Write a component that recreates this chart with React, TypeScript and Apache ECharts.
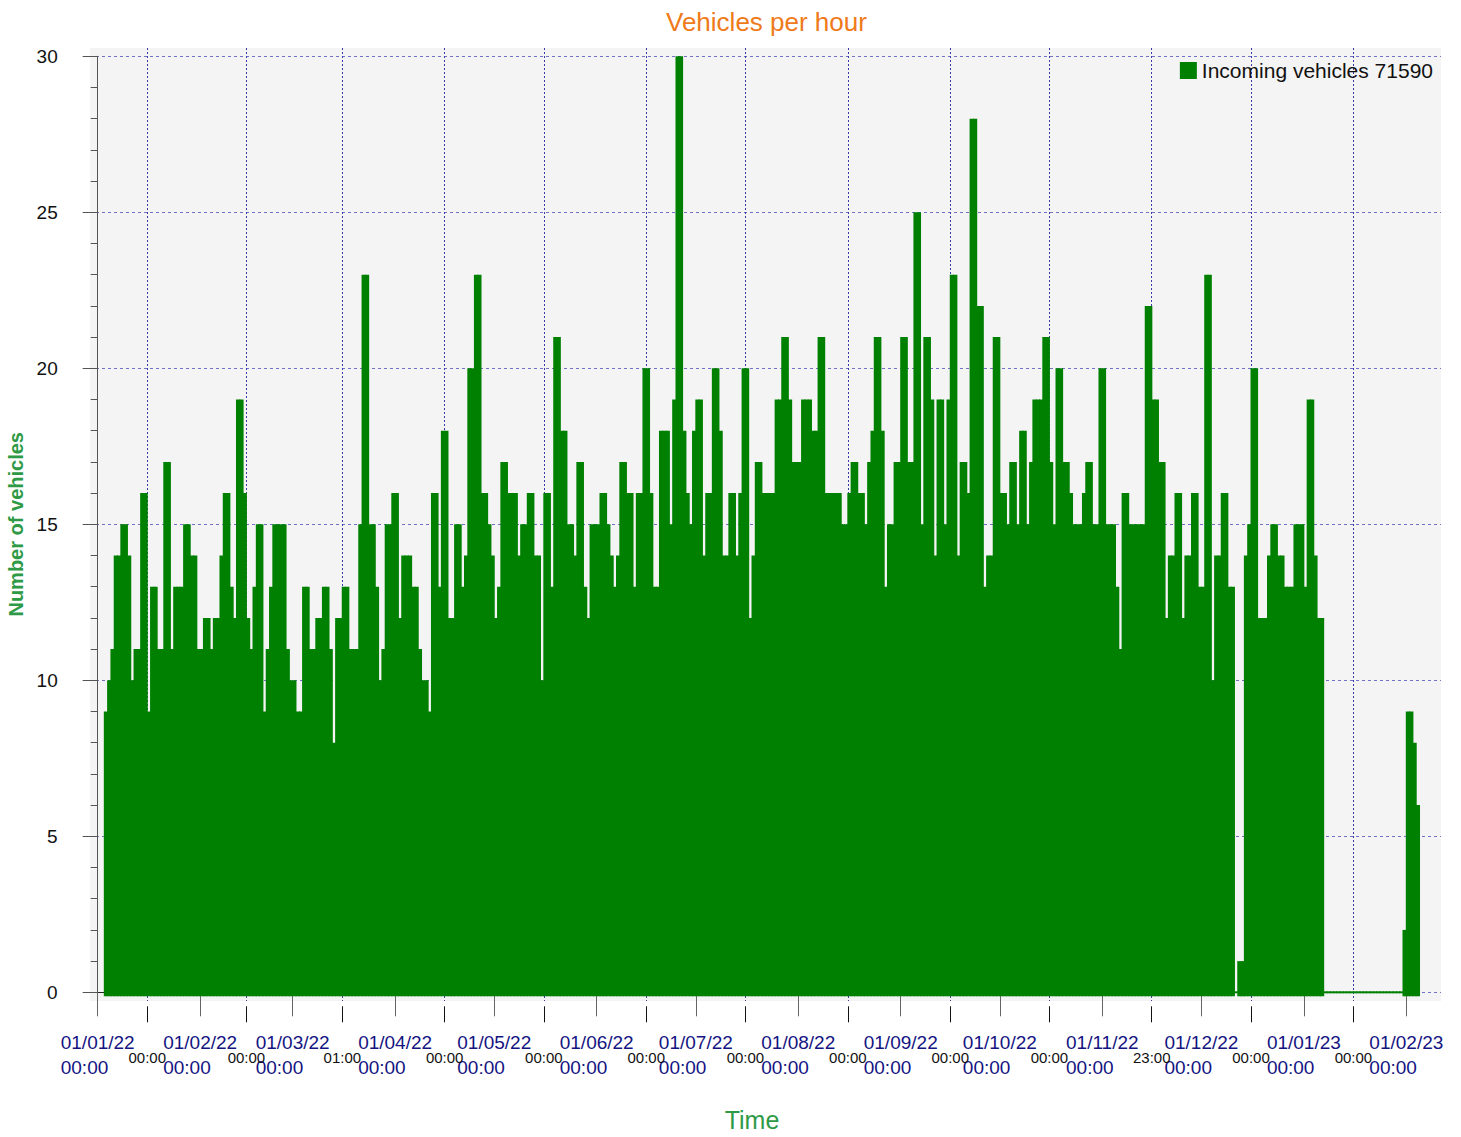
import React, { useEffect, useRef } from "react";
import * as echarts from "echarts";

// ---------- texts ----------
const TITLE = "Vehicles per hour";
const SERIES_NAME = "Incoming vehicles 71590";
const Y_NAME = "Number of vehicles";
const X_NAME = "Time";

// ---------- x axis (days since 01/01/22 00:00) ----------
const MONTH_START_DAYS = [0, 31, 59, 90, 120, 151, 181, 212, 243, 273, 304, 334, 365, 396];
const MONTH_DATE_LABELS = [
  "01/01/22", "01/02/22", "01/03/22", "01/04/22", "01/05/22", "01/06/22", "01/07/22",
  "01/08/22", "01/09/22", "01/10/22", "01/11/22", "01/12/22", "01/01/23", "01/02/23",
];
const MONTH_TIME_LABELS = [
  "00:00", "00:00", "00:00", "00:00", "00:00", "00:00", "00:00",
  "00:00", "00:00", "00:00", "00:00", "00:00", "00:00", "00:00",
];
const MID_TICK_DAYS = [15, 45, 74 + 1 / 24, 105, 135, 166, 196, 227, 258, 288, 319 - 1 / 24, 349, 380];
const MID_TICK_LABELS = [
  "00:00", "00:00", "01:00", "00:00", "00:00", "00:00", "00:00",
  "00:00", "00:00", "00:00", "23:00", "00:00", "00:00",
];
const Y_TICKS = [0, 5, 10, 15, 20, 25, 30];

// ---------- daily maximum of vehicles per hour ----------
const JAN_22 = [null, null, 9, 10, 11, 14, 14, 15, 15, 14, 10, 11, 11, 16, 16, 9, 13, 13, 11, 11, 17, 17, 11, 13, 13, 13, 15, 15, 14, 14, 11];
const FEB_22 = [11, 12, 12, 11, 12, 12, 14, 16, 16, 13, 12, 19, 19, 16, 12, 11, 13, 15, 15, 9, 11, 13, 15, 15, 15, 15, 11, 10];
const MAR_22 = [10, 9, 9, 13, 13, 11, 11, 12, 12, 13, 13, 11, 8, 12, 12, 13, 13, 11, 11, 11, 15, 23, 23, 15, 15, 13, 10, 11, 15, 15, 16];
const APR_22 = [16, 12, 14, 14, 14, 13, 13, 11, 10, 10, 9, 16, 16, 13, 18, 18, 12, 12, 15, 15, 13, 14, 20, 20, 23, 23, 16, 16, 15, 14];
const MAY_22 = [12, 13, 17, 17, 16, 16, 16, 14, 15, 15, 16, 16, 14, 14, 10, 16, 16, 13, 21, 21, 18, 18, 15, 15, 14, 17, 17, 13, 12, 15, 15];
const JUN_22 = [15, 16, 16, 15, 14, 13, 14, 17, 17, 16, 16, 13, 16, 16, 20, 20, 16, 13, 13, 18, 18, 18, 15, 19, 30, 30, 18, 16, 15, 18];
const JUL_22 = [19, 19, 14, 16, 16, 20, 20, 18, 14, 14, 16, 16, 14, 16, 20, 20, 12, 14, 17, 17, 16, 16, 16, 16, 19, 19, 21, 21, 19, 17, 17];
const AUG_22 = [17, 19, 19, 19, 18, 18, 21, 21, 16, 16, 16, 16, 16, 15, 15, 16, 17, 17, 16, 16, 15, 17, 18, 21, 21, 18, 13, 15, 15, 17, 17];
const SEP_22 = [21, 21, 17, 17, 25, 25, 15, 21, 21, 19, 14, 19, 19, 15, 19, 23, 23, 14, 17, 17, 16, 28, 28, 22, 22, 13, 14, 14, 21, 21];
const OCT_22 = [16, 16, 15, 17, 17, 15, 18, 18, 15, 17, 19, 19, 19, 21, 21, 17, 15, 20, 20, 17, 17, 16, 15, 15, 15, 16, 17, 17, 15, 15, 20];
const NOV_22 = [20, 15, 15, 15, 13, 11, 16, 16, 15, 15, 15, 15, 15, 22, 22, 19, 19, 17, 17, 12, 14, 14, 16, 16, 12, 14, 14, 16, 16, 13];
const DEC_22 = [13, 23, 23, 10, 14, 14, 16, 16, 13, 13, 0, 1, 1, 14, 15, 20, 20, 12, 12, 12, 14, 15, 15, 14, 14, 13, 13, 13, 15, 15, 15];
const JAN_23 = [13, 19, 19, 14, 12, 12, 0, 0, 0, 0, 0, 0, 0, 0, 0, 0, 0, 0, 0, 0, 0, 0, 0, 0, 0, 0, 0, 0, 0, 0, 2];
const FEB_23 = [9, 9, 8, 6];
const MONTHS = [JAN_22, FEB_22, MAR_22, APR_22, MAY_22, JUN_22, JUL_22, AUG_22, SEP_22, OCT_22, NOV_22, DEC_22, JAN_23, FEB_23];

// ---------- layout (pixels) ----------
const W = 1461;
const H = 1137;
const X_DAY0 = 97.7; // pixel of 01/01/22
const X_DAY396 = 1406.3; // pixel of 01/02/23
const Y_VAL0 = 992.3;
const Y_VAL30 = 56.3;
const BG = { left: 90, top: 48, right: 1441, bottom: 1001 };

const GREEN = "#008000";
const NAVY = "#141482";
const NAME_GREEN = "#2e9a46";

export default function App() {
  const ref = useRef<HTMLDivElement | null>(null);

  useEffect(() => {
    if (!ref.current) return;
    const chart = echarts.init(ref.current, undefined, { renderer: "svg" });

    const data: number[][] = [];
    MONTHS.forEach((arr, m) => {
      arr.forEach((v, i) => {
        if (v !== null && v !== undefined) data.push([MONTH_START_DAYS[m] + i, v as number]);
      });
    });

    const dayPx = (X_DAY396 - X_DAY0) / 396;
    const valPx = (Y_VAL0 - Y_VAL30) / 30;
    const bgXMin = -(X_DAY0 - BG.left) / dayPx;
    const bgXMax = 396 + (BG.right - X_DAY396) / dayPx;
    const bgYMin = -(BG.bottom - Y_VAL0) / valPx;
    const bgYMax = 30 + (Y_VAL30 - BG.top) / valPx;

    const font = "Liberation Sans";

    const option: any = {
      animation: false,
      textStyle: { fontFamily: font },
      title: {
        text: TITLE,
        left: 666,
        top: 9,
        padding: 0,
        textStyle: { color: "#ef7a1a", fontSize: 26, fontWeight: "normal", fontFamily: font },
      },
      legend: {
        data: [{ name: SERIES_NAME, icon: "rect" }],
        right: 28,
        top: 60,
        padding: 0,
        itemWidth: 17,
        itemHeight: 17,
        textStyle: { fontSize: 21, color: "#111", fontFamily: font },
      },
      grid: [
        {
          left: X_DAY0,
          right: W - X_DAY396,
          top: Y_VAL30,
          bottom: H - Y_VAL0,
          outerBoundsMode: "none",
          containLabel: false,
        },
        {
          left: BG.left,
          right: W - BG.right,
          top: BG.top,
          bottom: H - BG.bottom,
          outerBoundsMode: "none",
          containLabel: false,
          show: true,
          backgroundColor: "#f4f4f4",
          borderWidth: 0,
          z: -1,
        },
      ],
      xAxis: [
        {
          type: "value",
          gridIndex: 0,
          min: 0,
          max: 396,
          position: "bottom",
          offset: 14,
          name: X_NAME,
          nameLocation: "middle",
          nameGap: 101,
          nameTextStyle: { color: NAME_GREEN, fontSize: 25, fontFamily: font },
          axisLine: { show: true, lineStyle: { color: "#222", width: 1 } },
          axisTick: { show: true, length: 24, customValues: MONTH_START_DAYS, lineStyle: { color: "#666" } },
          axisLabel: {
            show: true,
            customValues: MONTH_START_DAYS,
            margin: 24,
            formatter: (val: number) => {
              const i = MONTH_START_DAYS.indexOf(Math.round(val));
              if (i < 0) return "";
              return `{d|${MONTH_DATE_LABELS[i]}}\n{d|${MONTH_TIME_LABELS[i]}}`;
            },
            rich: {
              d: { fontSize: 19, lineHeight: 24.5, color: NAVY, align: "left", fontFamily: font },
            },
          },
          splitLine: { show: false },
        },
        {
          type: "value",
          gridIndex: 0,
          min: 0,
          max: 396,
          position: "bottom",
          offset: 14,
          axisLine: { show: false },
          axisTick: { show: true, length: 16, customValues: MID_TICK_DAYS, lineStyle: { color: "#111" } },
          axisLabel: {
            show: true,
            customValues: MID_TICK_DAYS,
            margin: 43,
            fontSize: 15,
            lineHeight: 16,
            color: "#111",
            fontFamily: font,
            formatter: (val: number) => {
              let best = -1;
              let bd = 1e9;
              MID_TICK_DAYS.forEach((d, i) => {
                const dd = Math.abs(d - val);
                if (dd < bd) {
                  bd = dd;
                  best = i;
                }
              });
              return best >= 0 && bd < 0.5 ? MID_TICK_LABELS[best] : "";
            },
          },
          splitLine: { show: false },
        },
        {
          type: "value",
          gridIndex: 1,
          min: bgXMin,
          max: bgXMax,
          axisLine: { show: false },
          axisLabel: { show: false },
          axisTick: { show: false, customValues: MID_TICK_DAYS },
          splitLine: { show: true, lineStyle: { color: "#3a3aa6", type: [2, 2], width: 1 } },
        },
      ],
      yAxis: [
        {
          type: "value",
          gridIndex: 0,
          min: 0,
          max: 30,
          interval: 5,
          position: "left",
          offset: 14,
          name: Y_NAME,
          nameLocation: "middle",
          nameGap: 56,
          nameRotate: 90,
          nameTextStyle: { color: NAME_GREEN, fontSize: 20, fontWeight: "bold", fontFamily: font },
          axisLine: { show: true, lineStyle: { color: "#555", width: 1 } },
          axisTick: { show: true, length: 15, lineStyle: { color: "#555" } },
          minorTick: { show: true, splitNumber: 5, length: 7, lineStyle: { color: "#555" } },
          axisLabel: { show: true, margin: 26, fontSize: 19, color: "#111", fontFamily: font },
          splitLine: { show: false },
        },
        {
          type: "value",
          gridIndex: 1,
          min: bgYMin,
          max: bgYMax,
          axisLine: { show: false },
          axisLabel: { show: false },
          axisTick: { show: false, customValues: Y_TICKS },
          splitLine: { show: true, lineStyle: { color: "#7272c8", type: [3, 3], width: 1 } },
        },
      ],
      series: [
        {
          name: SERIES_NAME,
          type: "custom",
          xAxisIndex: 0,
          yAxisIndex: 0,
          clip: false,
          itemStyle: { color: GREEN },
          encode: { x: 0, y: 1 },
          data,
          renderItem: (params: any, api: any) => {
            const d = api.value(0);
            const v = api.value(1);
            const pTop = api.coord([d, v]);
            const pEnd = api.coord([d + 1, 0]);
            const base = pEnd[1];
            const y0 = v > 0 ? pTop[1] : base - 1;
            const y1 = v > 0 ? base + 4 : base + 1;
            return {
              type: "rect",
              shape: { x: pTop[0] - 0.5, y: y0, width: pEnd[0] - pTop[0] + 1, height: y1 - y0 },
              style: { fill: GREEN },
            };
          },
        },
      ],
    };

    chart.setOption(option);
    return () => {
      chart.dispose();
    };
  }, []);

  return (
    <div
      ref={ref}
      style={{ position: "absolute", left: 0, top: 0, width: W, height: H, background: "#fff" }}
    />
  );
}
